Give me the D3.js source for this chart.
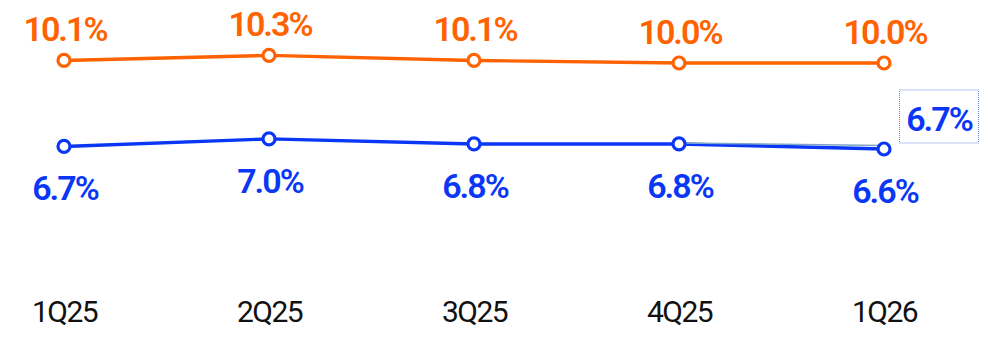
<!DOCTYPE html>
<html>
<head>
<meta charset="utf-8">
<script src="https://cdn.jsdelivr.net/npm/d3@7/dist/d3.min.js"></script>
<style>
  html, body { margin: 0; padding: 0; background: #fff; }
  svg { display: block; }
  .val { font-family: Roboto, "Open Sans", sans-serif; font-weight: 600; font-size: 34px; letter-spacing: -2px; }
  .axis text { font-family: Roboto, "Open Sans", sans-serif; font-weight: 400; font-size: 30px; fill: #111; letter-spacing: -1.5px; }
</style>
</head>
<body>
<svg id="chart" width="990" height="338"></svg>
<script>
// Quarters on the x axis
const categories = ["1Q25", "2Q25", "3Q25", "4Q25", "1Q26"];
// Upper series (orange), percent
const orangeValues = [10.1, 10.3, 10.1, 10.0, 10.0];
// Lower series (blue), percent
const blueValues = [6.7, 7.0, 6.8, 6.8, 6.6];
// Alternative last-quarter reading shown as a faint segment and boxed label
const altValues = [null, null, null, 6.8, 6.7];

const ORANGE = "#ff6200";
const BLUE = "#0a37f5";

const svg = d3.select("#chart");

const x = d3.scalePoint().domain(categories).range([64, 884]);
const y = d3.scaleLinear().domain([6.6, 10.0]).range([149, 63]);

// x axis labels only
svg.append("g")
  .attr("class", "axis")
  .attr("transform", "translate(0,322)")
  .call(d3.axisBottom(x).tickSize(0).tickPadding(0))
  .call(g => g.select(".domain").remove())
  .selectAll("text").attr("dy", "0");

const line = d3.line()
  .defined(d => d.v != null)
  .x(d => x(d.c))
  .y(d => y(d.v));

function drawSeries(values, color) {
  const data = categories.map((c, i) => ({ c, v: values[i] }));
  svg.append("path")
    .datum(data)
    .attr("d", line)
    .attr("fill", "none")
    .attr("stroke", color)
    .attr("stroke-width", 3.4)
    .attr("stroke-linejoin", "round");
  return data;
}

const orangeData = drawSeries(orangeValues, ORANGE);
const blueData = drawSeries(blueValues, BLUE);

// faint alternative segment
const altData = categories.map((c, i) => ({ c, v: altValues[i] }));
svg.append("path")
  .datum(altData)
  .attr("d", line)
  .attr("fill", "none")
  .attr("stroke", "#7fa6c8")
  .attr("stroke-width", 1.6)
  .attr("transform", "translate(0,-1)");

function drawMarkers(data, color) {
  svg.append("g").selectAll("circle")
    .data(data)
    .join("circle")
    .attr("cx", d => x(d.c))
    .attr("cy", d => y(d.v))
    .attr("r", 6)
    .attr("fill", "#fff")
    .attr("stroke", color)
    .attr("stroke-width", 3.2);
}
drawMarkers(orangeData, ORANGE);
drawMarkers(blueData, BLUE);

// value labels
svg.append("g").selectAll("text")
  .data(orangeData)
  .join("text")
  .attr("class", "val")
  .attr("x", d => x(d.c) + 1)
  .attr("y", d => y(d.v) - 19)
  .attr("text-anchor", "middle")
  .attr("fill", ORANGE)
  .text(d => d.v.toFixed(1) + "%");

svg.append("g").selectAll("text")
  .data(blueData)
  .join("text")
  .attr("class", "val")
  .attr("x", d => x(d.c) + 1)
  .attr("y", d => y(d.v) + 54)
  .attr("text-anchor", "middle")
  .attr("fill", BLUE)
  .text(d => d.v.toFixed(1) + "%");

// boxed label for the alternative last value
const last = altData[altData.length - 1];
const bx = x(last.c) + 15, by = y(last.v) - 57;
svg.append("rect")
  .attr("x", bx + 0.5).attr("y", by + 0.5)
  .attr("width", 79).attr("height", 53)
  .attr("fill", "none")
  .attr("stroke", "#6f82e6")
  .attr("stroke-width", 1)
  .attr("stroke-dasharray", "1,1");
svg.append("text")
  .attr("class", "val")
  .attr("x", bx + 40)
  .attr("y", by + 42)
  .attr("text-anchor", "middle")
  .attr("fill", BLUE)
  .text(last.v.toFixed(1) + "%");
</script>
</body>
</html>
